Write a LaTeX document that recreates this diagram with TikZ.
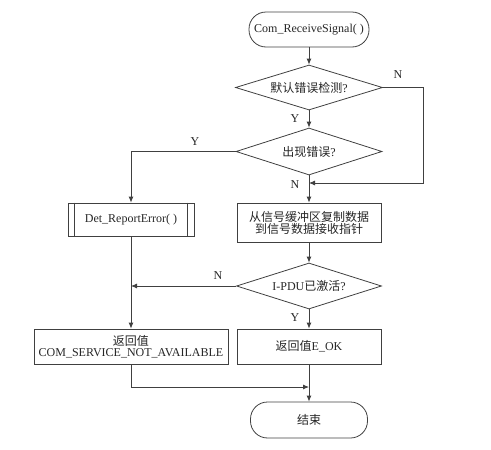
\documentclass[tikz,border=0pt]{standalone}
\usepackage{fontspec}
\setmainfont{Liberation Serif}
\newfontfamily\cjkfont{Noto Sans CJK SC}
\newcommand\zhtxt[1]{{\cjkfont #1}}
\usetikzlibrary{shapes.geometric,arrows.meta}
\begin{document}
\begin{tikzpicture}[x=1pt,y=-1pt,
  line width=0.8pt,
  every node/.style={font=\fontsize{12}{14}\selectfont, text=black!85},
  conn/.style={draw=black!75, -{Latex[length=6pt,width=5pt]}},
  plain/.style={draw=black!75},
  term/.style={draw=black!75, rounded corners=17pt, inner sep=0pt},
  dec/.style={draw=black!75, diamond, aspect=3.2, inner sep=0pt},
  proc/.style={draw=black!75, rectangle, inner sep=0pt, align=center},
  lbl/.style={inner sep=0pt}
]
\useasboundingbox (0,0) rectangle (491,450);

\node[term, minimum width=120pt, minimum height=35pt] (start) at (309,29.5) {Com\_ReceiveSignal( )};
\node[dec, minimum width=147pt, minimum height=45pt] (d1) at (309,87.5) {\zhtxt{默认错误检测}?};
\node[dec, minimum width=146pt, minimum height=47pt] (d2) at (309,151.5) {\zhtxt{出现错误}?};
\node[proc, minimum width=126pt, minimum height=33pt] (det) at (131,219.5) {Det\_ReportError( )};
\draw[plain] ([xshift=7pt]det.north west) -- ([xshift=7pt]det.south west);
\draw[plain] ([xshift=-7pt]det.north east) -- ([xshift=-7pt]det.south east);
\node[proc, minimum width=144pt, minimum height=39pt] (copy) at (309,222.5) {\zhtxt{从信号缓冲区复制数据}\\[-2pt]\zhtxt{到信号数据接收指针}};
\node[dec, minimum width=145pt, minimum height=46pt] (d3) at (309,286) {I-PDU\zhtxt{已激活}?};
\node[proc, minimum width=194pt, minimum height=35pt] (retl) at (131,346.5) {\zhtxt{返回值}\\[-3pt]COM\_SERVICE\_NOT\_AVAILABLE};
\node[proc, minimum width=144pt, minimum height=35pt] (retr) at (309,346.5) {\zhtxt{返回值}E\_OK};
\node[term, minimum width=117pt, minimum height=36pt] (stop) at (309,420) {\zhtxt{结束}};

\coordinate (r1) at (423,87.5);
\coordinate (j1) at (309,183);
\coordinate (j2) at (131,286);
\coordinate (j3) at (309,387);

\draw[conn] (start) -- (d1);
\draw[conn] (d1) -- (d2);
\draw[conn] (d1.east) -- (r1) |- (j1);
\draw[conn] (d2) -- (copy);
\draw[conn] (d2.west) -| (det.north);
\draw[conn] (det) -- (retl);
\draw[conn] (copy) -- (d3);
\draw[conn] (d3.west) -- (j2);
\draw[conn] (d3) -- (retr);
\draw[conn] (retr) -- (stop);
\draw[conn] (retl.south) |- (j3);

\node[lbl] (n1) at (398,75) {N};
\node[lbl] (y1) at (295,119) {Y};
\node[lbl] (y2) at (195,142) {Y};
\node[lbl] (n2) at (295,185) {N};
\node[lbl] (n3) at (218,276) {N};
\node[lbl] (y3) at (295,318) {Y};
\end{tikzpicture}
\end{document}
